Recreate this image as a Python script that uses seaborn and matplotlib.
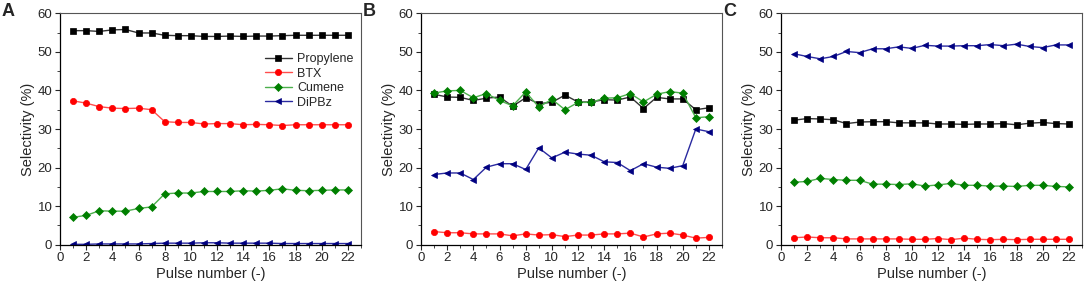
import seaborn as sns
import pandas as pd
import matplotlib.pyplot as plt
from matplotlib.ticker import MultipleLocator

pulses = list(range(1, 23))
series_names = ['Propylene', 'BTX', 'Cumene', 'DiPBz']
panel_letters = ['A', 'B', 'C']

# panel A
a_propylene = [55.5, 55.5, 55.3, 55.7, 55.8, 54.9, 54.9, 54.3, 54.2, 54.2, 54.0,
               54.0, 54.1, 54.0, 54.1, 54.1, 54.2, 54.3, 54.3, 54.3, 54.3, 54.3]
a_btx = [37.3, 36.7, 35.8, 35.4, 35.3, 35.4, 35.0, 31.9, 31.7, 31.7, 31.3,
         31.4, 31.4, 31.1, 31.2, 31.1, 30.9, 31.1, 31.1, 31.1, 31.1, 31.1]
a_cumene = [7.1, 7.6, 8.8, 8.7, 8.7, 9.4, 9.8, 13.2, 13.4, 13.4, 13.8,
            13.8, 13.8, 14.0, 13.9, 14.1, 14.5, 14.1, 14.0, 14.1, 14.2, 14.2]
a_dipbz = [0.1, 0.1, 0.2, 0.2, 0.2, 0.2, 0.3, 0.4, 0.4, 0.4, 0.5,
           0.5, 0.4, 0.4, 0.4, 0.4, 0.3, 0.3, 0.3, 0.3, 0.3, 0.3]

# panel B
b_propylene = [39.0, 38.3, 38.2, 37.4, 38.0, 38.3, 35.9, 38.1, 36.6, 36.9, 38.8,
               37.0, 37.0, 37.6, 37.5, 38.3, 35.3, 38.2, 37.8, 37.8, 35.0, 35.5]
b_btx = [3.4, 3.1, 3.1, 2.8, 2.8, 2.8, 2.3, 2.8, 2.5, 2.6, 2.1,
         2.5, 2.5, 2.8, 2.8, 3.0, 2.0, 2.8, 3.0, 2.5, 1.7, 1.9]
b_cumene = [39.3, 39.9, 40.0, 38.1, 39.2, 37.4, 36.0, 39.6, 35.7, 37.7, 35.0,
            36.9, 36.9, 38.0, 38.1, 39.2, 37.0, 39.0, 39.7, 39.3, 32.9, 33.2]
b_dipbz = [18.2, 18.6, 18.6, 16.9, 20.1, 21.0, 21.0, 19.5, 25.1, 22.5, 24.0,
           23.5, 23.2, 21.5, 21.3, 19.2, 21.0, 20.1, 19.8, 20.5, 30.0, 29.3]

# panel C
c_propylene = [32.3, 32.7, 32.6, 32.4, 31.4, 31.8, 31.9, 31.9, 31.6, 31.6, 31.6,
               31.3, 31.3, 31.2, 31.3, 31.3, 31.4, 31.1, 31.5, 31.7, 31.4, 31.3]
c_btx = [1.8, 2.0, 1.8, 1.8, 1.5, 1.5, 1.5, 1.5, 1.5, 1.4, 1.4,
         1.6, 1.3, 1.7, 1.4, 1.3, 1.4, 1.3, 1.4, 1.4, 1.4, 1.4]
c_cumene = [16.2, 16.4, 17.2, 16.9, 16.7, 16.7, 15.7, 15.7, 15.6, 15.8, 15.2,
            15.5, 15.9, 15.4, 15.4, 15.2, 15.2, 15.1, 15.4, 15.4, 15.1, 15.0]
c_dipbz = [49.5, 48.8, 48.2, 48.8, 50.1, 49.8, 50.8, 50.8, 51.3, 50.9, 51.7,
           51.5, 51.5, 51.6, 51.6, 51.9, 51.6, 52.0, 51.4, 51.1, 51.8, 51.8]

panels = [
    [a_propylene, a_btx, a_cumene, a_dipbz],
    [b_propylene, b_btx, b_cumene, b_dipbz],
    [c_propylene, c_btx, c_cumene, c_dipbz],
]

# marker colour, line colour, marker, size
styles = {
    'Propylene': ('black', '#333333', 's', 4.2),
    'BTX': ('#ff0000', '#ff4d4d', 'o', 4.5),
    'Cumene': ('#007f00', '#4caf4c', 'D', 3.8),
    'DiPBz': ('#000080', '#2a2aa0', '<', 4.7),
}

sns.set_theme(style='ticks')
plt.rcParams['font.family'] = ['Liberation Sans', 'DejaVu Sans']

fig = plt.figure(figsize=(10.84, 2.86), dpi=100)
lefts = [60 / 1084, 421 / 1084, 781 / 1084]
width = 301 / 1084
bottom = 41.3 / 286
height = 231.4 / 286

for i, values in enumerate(panels):
    ax = fig.add_axes([lefts[i], bottom, width, height])
    for name, ys in zip(series_names, values):
        df = pd.DataFrame({'pulse': pulses, 'sel': ys})
        mc, lc, mk, ms = styles[name]
        sns.lineplot(data=df, x='pulse', y='sel', ax=ax, color=lc,
                     marker=mk, markersize=ms, markerfacecolor=mc,
                     markeredgecolor=mc, markeredgewidth=0.5,
                     linewidth=1.0, label=name if i == 0 else None)
    ax.set_xlim(0, 23)
    ax.set_ylim(0, 60)
    ax.xaxis.set_major_locator(MultipleLocator(2))
    ax.xaxis.set_minor_locator(MultipleLocator(1))
    ax.yaxis.set_major_locator(MultipleLocator(10))
    ax.yaxis.set_minor_locator(MultipleLocator(5))
    ax.tick_params(which='major', direction='out', length=3.5, width=0.8,
                   labelsize=9.5, pad=2)
    ax.tick_params(which='minor', direction='out', length=2, width=0.6)
    for side in ['left', 'bottom']:
        ax.spines[side].set_color('black')
        ax.spines[side].set_linewidth(0.9)
    for side in ['top', 'right']:
        ax.spines[side].set_visible(True)
        ax.spines[side].set_color('#555555')
        ax.spines[side].set_linewidth(0.8)
    ax.set_xlabel('Pulse number (-)', fontsize=10.5, labelpad=2)
    ax.set_ylabel('Selectivity (%)', fontsize=10.5, labelpad=2)
    fig.text(lefts[i] - 58 / 1084, 0.99, panel_letters[i], fontsize=13,
             fontweight='bold', va='top', ha='left')
    if i == 0:
        ax.legend(loc='upper right', bbox_to_anchor=(1.0, 0.86), frameon=False,
                  fontsize=9, handlelength=2.2, handletextpad=0.4,
                  labelspacing=0.2, borderaxespad=0.2)
    elif ax.get_legend() is not None:
        ax.get_legend().remove()

fig.savefig('out.png', dpi=100)
